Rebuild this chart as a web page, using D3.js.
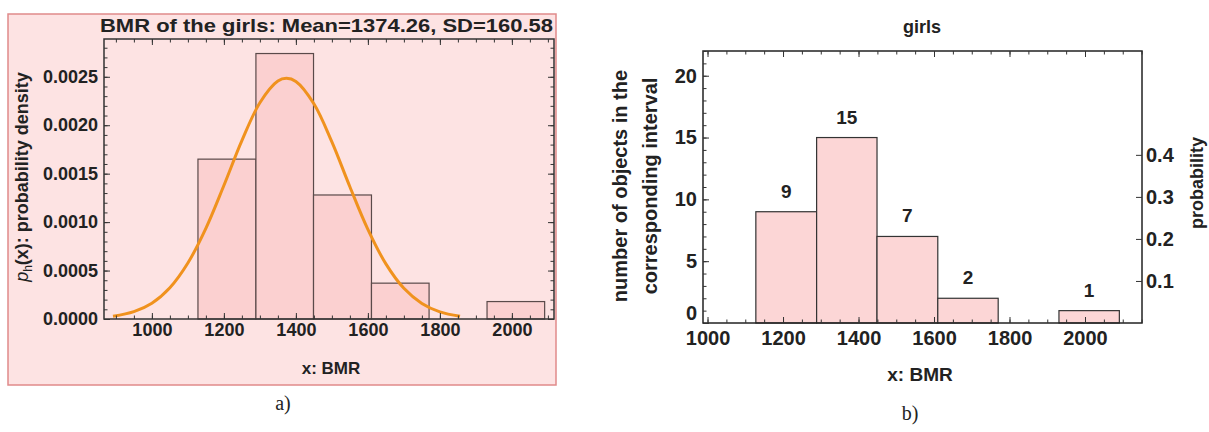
<!DOCTYPE html>
<html>
<head>
<meta charset="utf-8">
<script src="https://cdn.jsdelivr.net/npm/d3@7"></script>
<style>
  body { margin: 0; background: #fff; }
  text { font-family: "Liberation Sans", Arial, sans-serif; font-weight: bold; fill: #222; }
  .caption { font-family: "Liberation Serif", "Times New Roman", serif; font-weight: normal; }
  .axis path { display: none; }
  .axis line { stroke: #333; stroke-width: 1; }
</style>
</head>
<body>
<script>
// histogram bins (BMR), shared by both panels
var binEdges = [1128, 1289, 1449, 1610, 1770, 1931, 2091];
var counts = [9, 15, 7, 2, 0, 1];
var densities = [0.00165, 0.00274, 0.00128, 0.00037, 0, 0.00018];

// fitted normal curve read off panel a)
var curveX = [892, 950, 1000, 1050, 1100, 1150, 1200, 1250, 1300, 1350, 1374, 1400, 1450, 1500, 1550, 1600, 1650, 1700, 1750, 1800, 1856];
var curveY = [0.000028, 0.000076, 0.000163, 0.000323, 0.000578, 0.000936, 0.001378, 0.001841, 0.002232, 0.002456, 0.002484,
              0.002452, 0.002222, 0.001828, 0.001365, 0.000925, 0.000569, 0.000317, 0.000161, 0.000074, 0.000028];

var xTicks = [1000, 1200, 1400, 1600, 1800, 2000];
var densTicks = [0, 0.0005, 0.0010, 0.0015, 0.0020, 0.0025];
var countTicks = [0, 5, 10, 15, 20];
var probTicks = [0.1, 0.2, 0.3, 0.4];

var width = 1209, height = 432;
var svg = d3.select("body").append("svg")
    .attr("width", width)
    .attr("height", height);

function minorTicks(lo, hi, step) {
  return d3.range(lo, hi + step / 2, step);
}

// major + minor ticks on bottom, top and left of a frame
function frameTicks(g, xs, ys, box, xMaj, xMin, yMaj, yMin, xFmt, yFmt) {
  g.append("g").attr("class", "axis").attr("transform", "translate(0," + box.bottom + ")")
    .call(d3.axisBottom(xs).tickValues(xMin).tickSize(-3.5).tickFormat(""));
  g.append("g").attr("class", "axis xlab").attr("transform", "translate(0," + box.bottom + ")")
    .call(d3.axisBottom(xs).tickValues(xMaj).tickSize(-6).tickPadding(4).tickFormat(xFmt));
  g.append("g").attr("class", "axis").attr("transform", "translate(0," + box.top + ")")
    .call(d3.axisTop(xs).tickValues(xMin).tickSize(-3.5).tickFormat(""));
  g.append("g").attr("class", "axis").attr("transform", "translate(0," + box.top + ")")
    .call(d3.axisTop(xs).tickValues(xMaj).tickSize(-6).tickFormat(""));
  g.append("g").attr("class", "axis").attr("transform", "translate(" + box.left + ",0)")
    .call(d3.axisLeft(ys).tickValues(yMin).tickSize(-3.5).tickFormat(""));
  g.append("g").attr("class", "axis ylab").attr("transform", "translate(" + box.left + ",0)")
    .call(d3.axisLeft(ys).tickValues(yMaj).tickSize(-6).tickPadding(6).tickFormat(yFmt));
}

// ---------- panel a) ----------
var L = {left: 104, right: 554, top: 39, bottom: 319};

svg.append("rect")
    .attr("x", 8).attr("y", 14)
    .attr("width", 548).attr("height", 371)
    .attr("fill", "#fde3e3")
    .attr("stroke", "#e08a8a").attr("stroke-width", 1.5);

var xL = d3.scaleLinear().domain([867, 2117]).range([L.left, L.right]);
var yL = d3.scaleLinear().domain([0, 0.00289]).range([L.bottom, L.top]);

var gA = svg.append("g");

gA.selectAll("rect.bar")
  .data(densities.map(function(d, i) { return {x0: binEdges[i], x1: binEdges[i + 1], v: d}; })
                 .filter(function(d) { return d.v > 0; }))
  .enter().append("rect")
    .attr("class", "bar")
    .attr("x", function(d) { return xL(d.x0); })
    .attr("y", function(d) { return yL(d.v); })
    .attr("width", function(d) { return xL(d.x1) - xL(d.x0); })
    .attr("height", function(d) { return yL(0) - yL(d.v); })
    .attr("fill", "#fbd0d0")
    .attr("stroke", "#5a4a4a")
    .attr("stroke-width", 1.2);

var line = d3.line()
    .x(function(d, i) { return xL(curveX[i]); })
    .y(function(d) { return yL(d); })
    .curve(d3.curveCatmullRom);

gA.append("path")
    .datum(curveY)
    .attr("d", line)
    .attr("fill", "none")
    .attr("stroke", "#f0921e")
    .attr("stroke-width", 3);

gA.append("rect")
    .attr("x", L.left).attr("y", L.top)
    .attr("width", L.right - L.left).attr("height", L.bottom - L.top)
    .attr("fill", "none").attr("stroke", "#333").attr("stroke-width", 1.5);

frameTicks(gA, xL, yL, L, xTicks, minorTicks(900, 2100, 50), densTicks, minorTicks(0, 0.0028, 0.0001),
           d3.format("d"), d3.format(".4f"));
gA.append("g").attr("class", "axis").attr("transform", "translate(" + L.right + ",0)")
  .call(d3.axisRight(yL).tickValues(minorTicks(0, 0.0028, 0.0001)).tickSize(-3.5).tickFormat(""));
gA.append("g").attr("class", "axis").attr("transform", "translate(" + L.right + ",0)")
  .call(d3.axisRight(yL).tickValues(densTicks).tickSize(-6).tickFormat(""));
gA.selectAll(".axis text").style("font-size", "18px").attr("fill", "#222");

gA.append("text")
    .attr("x", 100).attr("y", 32)
    .attr("textLength", 453).attr("lengthAdjust", "spacingAndGlyphs")
    .style("font-size", "19px")
    .text("BMR of the girls: Mean=1374.26, SD=160.58");

var yTitle = gA.append("text")
    .attr("transform", "translate(28,177) rotate(-90)")
    .attr("text-anchor", "middle")
    .style("font-size", "18px");
yTitle.append("tspan").style("font-style", "italic").style("font-weight", "normal").text("p");
yTitle.append("tspan").attr("dy", 4).style("font-size", "12px").style("font-weight", "normal").text("h");
yTitle.append("tspan").attr("dy", -4).text("(x): probability density");

gA.append("text")
    .attr("x", 331).attr("y", 374)
    .attr("text-anchor", "middle")
    .style("font-size", "17px")
    .text("x: BMR");

gA.append("text").attr("class", "caption")
    .attr("x", 283).attr("y", 410)
    .attr("text-anchor", "middle")
    .style("font-size", "20px")
    .text("a)");

// ---------- panel b) ----------
var R = {left: 703, right: 1142, top: 51, bottom: 323};
var total = d3.sum(counts);

var xR = d3.scaleLinear().domain([988, 2151]).range([R.left, R.right]);
var yR = d3.scaleLinear().domain([0, 22]).range([R.bottom, R.top]);
var yP = d3.scaleLinear().domain([0, 22 / total]).range([R.bottom, R.top]);

var gB = svg.append("g");

var binsB = counts.map(function(d, i) { return {x0: binEdges[i], x1: binEdges[i + 1], v: d}; })
                  .filter(function(d) { return d.v > 0; });

gB.selectAll("rect.bar")
  .data(binsB)
  .enter().append("rect")
    .attr("class", "bar")
    .attr("x", function(d) { return xR(d.x0); })
    .attr("y", function(d) { return yR(d.v); })
    .attr("width", function(d) { return xR(d.x1) - xR(d.x0); })
    .attr("height", function(d) { return yR(0) - yR(d.v); })
    .attr("fill", "#fcd6d6")
    .attr("stroke", "#333")
    .attr("stroke-width", 1.2);

gB.selectAll("text.count")
  .data(binsB)
  .enter().append("text")
    .attr("class", "count")
    .attr("x", function(d) { return (xR(d.x0) + xR(d.x1)) / 2; })
    .attr("y", function(d) { return yR(d.v) - 14; })
    .attr("text-anchor", "middle")
    .style("font-size", "19px")
    .text(function(d) { return d.v; });

gB.append("rect")
    .attr("x", R.left).attr("y", R.top)
    .attr("width", R.right - R.left).attr("height", R.bottom - R.top)
    .attr("fill", "none").attr("stroke", "#222").attr("stroke-width", 1.5);

frameTicks(gB, xR, yR, R, xTicks, minorTicks(1000, 2150, 50), countTicks, minorTicks(0, 22, 1),
           d3.format("d"), d3.format("d"));
gB.append("g").attr("class", "axis").attr("transform", "translate(" + R.right + ",0)")
  .call(d3.axisRight(yP).tickValues(probTicks).tickSize(-6).tickPadding(4).tickFormat(d3.format(".1f")));
gB.selectAll(".axis text").style("font-size", "20px").attr("fill", "#222");
// the "0" label sits just above the "1000" label, as in the original
gB.selectAll(".ylab .tick text").filter(function(d) { return d === 0; }).attr("dy", "-0.2em");
gB.selectAll(".xlab .tick text").attr("dy", "0.9em");

gB.append("text")
    .attr("x", 922).attr("y", 33)
    .attr("text-anchor", "middle")
    .style("font-size", "18px")
    .text("girls");

var yTitleB = gB.append("text")
    .attr("transform", "translate(0,186) rotate(-90)")
    .attr("text-anchor", "middle")
    .style("font-size", "20px");
yTitleB.append("tspan").attr("x", 0).attr("y", 627).text("number of objects in the");
yTitleB.append("tspan").attr("x", 0).attr("y", 657).text("corresponding interval");

gB.append("text")
    .attr("transform", "translate(1203,183) rotate(-90)")
    .attr("text-anchor", "middle")
    .style("font-size", "18px")
    .text("probability");

gB.append("text")
    .attr("x", 920).attr("y", 381)
    .attr("text-anchor", "middle")
    .style("font-size", "19px")
    .text("x: BMR");

gB.append("text").attr("class", "caption")
    .attr("x", 910).attr("y", 420)
    .attr("text-anchor", "middle")
    .style("font-size", "20px")
    .text("b)");
</script>
</body>
</html>
